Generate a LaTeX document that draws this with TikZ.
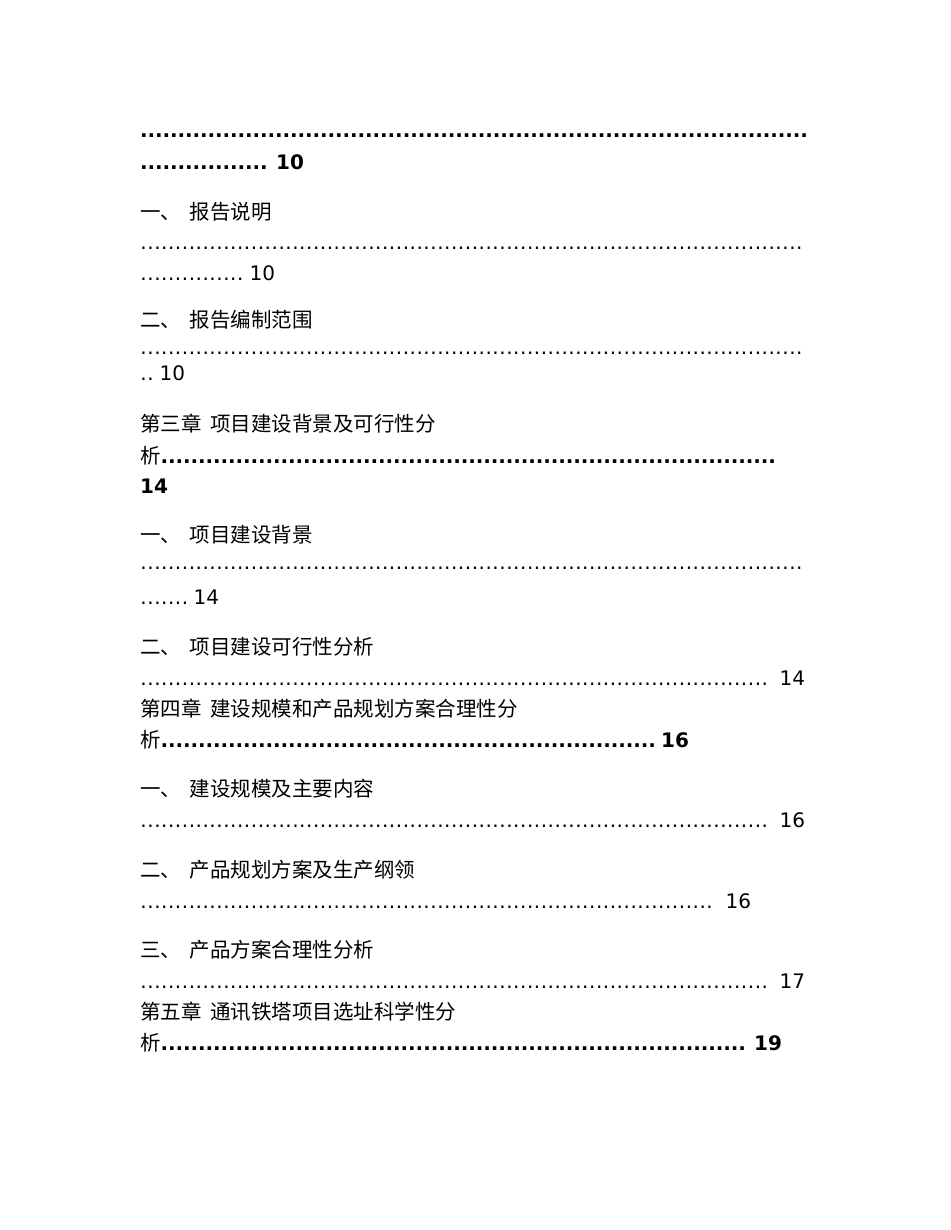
\documentclass[tikz,border=0pt]{standalone}
\usepackage{fontspec}
\setmainfont{DejaVu Sans}
\newfontfamily\cjk{Noto Sans CJK SC}
\usetikzlibrary{positioning}

% Leaders
\newcommand{\leaderdots}[2]{\hbox to #1{\leaders\hbox to #2{\hss.\hss}\hfill}}
\newcommand{\rdots}[1]{\leaderdots{#1}{6.9pt}}
\newcommand{\bdots}[1]{{\bfseries\leaderdots{#1}{7.5pt}}}
\newcommand{\zh}[1]{{\cjk\fontsize{20.5}{24}\selectfont #1}}
\newcommand{\gap}{\hspace{8.5pt}}

\tikzset{
  line/.style={anchor=base west, inner sep=0pt, font=\fontsize{20}{24}\selectfont},
  num/.style={line},
  bnum/.style={line, font=\fontsize{20}{24}\selectfont\bfseries},
}

\begin{document}
\begin{tikzpicture}[x=1pt, y=-1pt]
    \useasboundingbox (0,0) rectangle (950,1230);

    % Chapter two tail
    \node[line] (d1) at (140,137.5) {\bdots{670pt}};
    \node[line] (d2) at (140,170) {\bdots{127.5pt}};
    \node[right=8pt of d2.base east, bnum] (n2) {10};

    % Sections
    \node[line] (s1) at (140,219.5) {\zh{一、\gap 报告说明}};
    \node[line] (d3) at (140,249.5) {\rdots{662.4pt}};
    \node[line] (d4) at (140,280) {\rdots{103.5pt}};
    \node[right=5.5pt of d4.base east, num] (n4) {10};

    \node[line] (s2) at (140,327.5) {\zh{二、\gap 报告编制范围}};
    \node[line] (d5) at (140,354.5) {\rdots{662.4pt}};
    \node[line] (d6) at (140,380) {\rdots{13.8pt}};
    \node[right=5.2pt of d6.base east, num] (n6) {10};

    % Chapter three
    \node[line] (c3) at (140,431.5) {\zh{第三章\gap 项目建设背景及可行性分}};
    \node[line] (c3b) at (140,463.5) {\zh{析}\bdots{615pt}};
    \node[bnum] (n7) at (140,493) {14};

    \node[line] (s3) at (140,542.5) {\zh{一、\gap 项目建设背景}};
    \node[line] (d8) at (140,569.5) {\rdots{662.4pt}};
    \node[line] (d9) at (140,604) {\rdots{48.3pt}};
    \node[right=4.7pt of d9.base east, num] (n9) {14};

    \node[line] (s4) at (140,654.5) {\zh{二、\gap 项目建设可行性分析}};
    \node[line] (d10) at (140,685) {\rdots{627.9pt}};
    \node[right=11.1pt of d10.base east, num] (n10) {14};

    % Chapter four
    \node[line] (c4) at (140,716.5) {\zh{第四章\gap 建设规模和产品规划方案合理性分}};
    \node[line] (c4b) at (140,747) {\zh{析}\bdots{495pt}};
    \node[right=5pt of c4b.base east, bnum] (n11) {16};

    \node[line] (s5) at (140,796.5) {\zh{一、\gap 建设规模及主要内容}};
    \node[line] (d12) at (140,827) {\rdots{627.9pt}};
    \node[right=11.1pt of d12.base east, num] (n12) {16};

    \node[line] (s6) at (140,877.5) {\zh{二、\gap 产品规划方案及生产纲领}};
    \node[line] (d13) at (140,908) {\rdots{572.7pt}};
    \node[right=12.3pt of d13.base east, num] (n13) {16};

    \node[line] (s7) at (140,957.5) {\zh{三、\gap 产品方案合理性分析}};
    \node[line] (d14) at (140,988) {\rdots{627.9pt}};
    \node[right=11.1pt of d14.base east, num] (n14) {17};

    % Chapter five
    \node[line] (c5) at (140,1019.5) {\zh{第五章\gap 通讯铁塔项目选址科学性分}};
    \node[line] (c5b) at (140,1050) {\zh{析}\bdots{585pt}};
    \node[right=8pt of c5b.base east, bnum] (n15) {19};

\end{tikzpicture}
\end{document}
